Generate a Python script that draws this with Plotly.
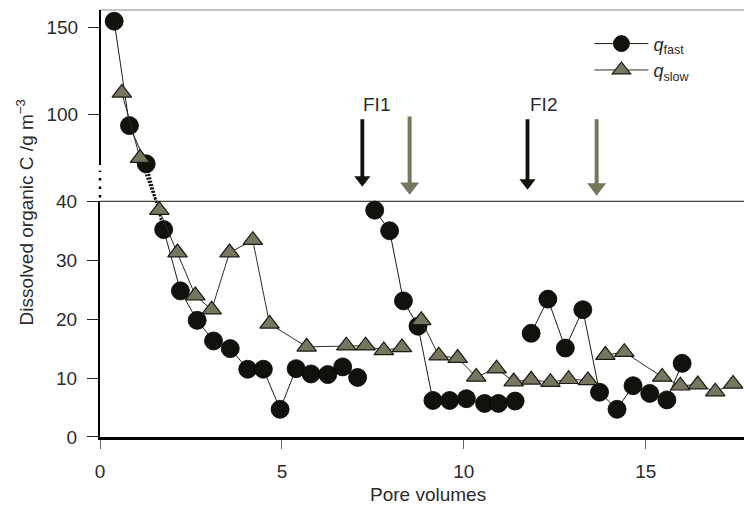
import plotly.graph_objects as go

# ---- data ----
fast_x = [0.39, 0.81, 1.27, 1.75, 2.21, 2.67, 3.12, 3.58, 4.06, 4.49, 4.95, 5.39, 5.80, 6.26, 6.67, 7.08,
          None,
          7.55, 7.96, 8.34, 8.74, 9.15, 9.61, 10.07, 10.57, 10.95, 11.41,
          None,
          11.85, 12.31, 12.79, 13.27, 13.73, 14.21, 14.65, 15.11, 15.58, 16.00]
fast_c = [153.4, 93.8, 72.0, 35.2, 24.8, 19.8, 16.3, 15.0, 11.5, 11.5, 4.7, 11.6, 10.7, 10.6, 11.9, 10.1,
          None,
          38.5, 35.0, 23.1, 18.8, 6.2, 6.2, 6.5, 5.7, 5.7, 6.1,
          None,
          17.6, 23.4, 15.1, 21.6, 7.6, 4.7, 8.7, 7.4, 6.3, 12.5]

slow_x = [0.60, 1.10, 1.63, 2.13, 2.62, 3.07, 3.56, 4.20, 4.66, 5.68, 6.77, 7.30, 7.80, 8.30,
          None,
          8.83, 9.31, 9.83, 10.34, 10.90, 11.37, 11.85, 12.38, 12.88, 13.41,
          None,
          13.89, 14.41, 15.45, 15.95, 16.43, 16.91, 17.40]
slow_c = [112.5, 75.3, 38.5, 31.3, 24.0, 21.6, 31.3, 33.4, 19.2, 15.3, 15.5, 15.5, 14.7, 15.2,
          None,
          19.8, 13.8, 13.4, 10.2, 11.6, 9.4, 9.7, 9.3, 9.8, 9.6,
          None,
          13.9, 14.4, 10.2, 8.7, 8.9, 7.7, 9.0]

# flow interruptions (arrows: shaft top and arrow-head centre, in upper-panel units)
fi_labels = ["FI1", "FI2"]
fi_label_x = [7.61, 12.19]
fi_label_c = [106.0, 106.0]
fi_fast_x = [7.21, 11.75]
fi_slow_x = [8.51, 13.65]
fi_fast_top = [97.4, 97.4]
fi_slow_top = [99.0, 97.4]
fi_fast_head = [62.9, 61.2]
fi_slow_head = [59.0, 58.5]

x_ticks = [0, 5, 10, 15]
low_ticks = [0, 10, 20, 30, 40]
up_ticks = [100, 150]

X_RANGE = [0, 17.7]
LOW_RANGE = [0, 40]
UP_RANGE = [50.6, 159.8]
SPLIT = 0.552

BLACK = "#12110b"
GREY = "#77765f"
TXT = "#2b2b2b"
FONT = "Liberation Sans, Arial, sans-serif"


def part(vals, lo, hi):
    return [v if (v is not None and lo <= v <= hi) else None for v in vals]


def paper_low(v):
    return (v - LOW_RANGE[0]) / (LOW_RANGE[1] - LOW_RANGE[0]) * SPLIT


def paper_up(v):
    return SPLIT + (v - UP_RANGE[0]) / (UP_RANGE[1] - UP_RANGE[0]) * (1 - SPLIT)


fig = go.Figure()

series = [
    ("<i>q</i><sub>fast</sub>", fast_x, fast_c,
     dict(symbol="circle", size=18, color=BLACK, line=dict(color="#000000", width=0.8)), "#1e1e18"),
    ("<i>q</i><sub>slow</sub>", slow_x, slow_c,
     dict(symbol="triangle-up", size=17, color=GREY, line=dict(color="#1a1a14", width=1.2)), "#2e2e28"),
]

for name, xs, cs, mk, lc in series:
    fig.add_trace(go.Scatter(x=xs, y=part(cs, LOW_RANGE[0], LOW_RANGE[1]), mode="lines+markers",
                             name=name, marker=mk, line=dict(color=lc, width=1),
                             xaxis="x", yaxis="y", cliponaxis=False, connectgaps=False,
                             legendgroup=name, showlegend=True))
for name, xs, cs, mk, lc in series:
    fig.add_trace(go.Scatter(x=xs, y=part(cs, UP_RANGE[0], UP_RANGE[1] + 10), mode="lines+markers",
                             name=name, marker=mk, line=dict(color=lc, width=1),
                             xaxis="x2", yaxis="y2", cliponaxis=False, connectgaps=False,
                             legendgroup=name, showlegend=False))

# arrow heads (flow interruptions)
fig.add_trace(go.Scatter(x=fi_fast_x, y=fi_fast_head, mode="markers", xaxis="x2", yaxis="y2",
                         marker=dict(symbol="triangle-down", size=14, color="#111109", line=dict(width=0)),
                         showlegend=False, hoverinfo="skip", cliponaxis=False))
fig.add_trace(go.Scatter(x=fi_slow_x, y=fi_slow_head, mode="markers", xaxis="x2", yaxis="y2",
                         marker=dict(symbol="triangle-down", size=16.5, color=GREY, line=dict(width=0)),
                         showlegend=False, hoverinfo="skip", cliponaxis=False))

shapes = []
# arrow shafts
for fx, top, head in zip(fi_fast_x, fi_fast_top, fi_fast_head):
    shapes.append(dict(type="line", xref="x2", yref="y2", x0=fx, x1=fx, y0=top, y1=head,
                       line=dict(color="#111109", width=3.8)))
for sx, top, head in zip(fi_slow_x, fi_slow_top, fi_slow_head):
    shapes.append(dict(type="line", xref="x2", yref="y2", x0=sx, x1=sx, y0=top, y1=head,
                       line=dict(color=GREY, width=4)))

# dotted connectors across the axis break
for name, xs, cs, mk, lc in series:
    for i in range(len(cs) - 1):
        a, b = cs[i], cs[i + 1]
        if a is None or b is None:
            continue
        if a >= UP_RANGE[0] and b <= LOW_RANGE[1]:
            shapes.append(dict(type="line", xref="x", yref="paper", layer="below",
                               x0=xs[i], y0=paper_up(a), x1=xs[i + 1], y1=paper_low(b),
                               line=dict(color="#111111", width=2.6, dash="2px,1.5px")))

# divider line at the break
shapes.append(dict(type="line", xref="paper", yref="paper", x0=0, x1=1, y0=SPLIT, y1=SPLIT,
                   line=dict(color="#111111", width=1)))
# top frame line
shapes.append(dict(type="line", xref="paper", yref="paper", x0=0, x1=1, y0=1, y1=1,
                   line=dict(color="#8a8a8a", width=1)))
# upper left axis: solid then dotted near the break
shapes.append(dict(type="line", xref="paper", yref="y2 domain", x0=0, x1=0, y0=0.19, y1=1.0,
                   line=dict(color="#000000", width=2)))
shapes.append(dict(type="line", xref="paper", yref="y2 domain", x0=0, x1=0, y0=0.02, y1=0.16,
                   line=dict(color="#000000", width=2.5, dash="2.5px,6px")))

annotations = []
for lab, lx, lcv in zip(fi_labels, fi_label_x, fi_label_c):
    annotations.append(dict(x=lx, y=lcv, xref="x2", yref="y2", text=lab, showarrow=False,
                            font=dict(family=FONT, size=19, color=TXT), xanchor="center", yanchor="middle"))

# axis titles
annotations.append(dict(xref="paper", yref="paper", x=(427.5 - 100) / 644, y=(436.7 - 495) / 430,
                        text="Pore volumes", showarrow=False, xanchor="center", yanchor="middle",
                        font=dict(family=FONT, size=19, color=TXT)))
annotations.append(dict(xref="paper", yref="paper", x=(25 - 100) / 644, y=(436.7 - 210.5) / 430,
                        text="Dissolved organic C /g m<sup>\u22123</sup>", showarrow=False, textangle=-90,
                        xanchor="center", yanchor="middle",
                        font=dict(family=FONT, size=19, color=TXT)))

tickfont = dict(family=FONT, size=19, color=TXT)

fig.update_layout(
    width=744, height=506,
    margin=dict(l=100, r=0, t=7, b=69),
    paper_bgcolor="white", plot_bgcolor="white",
    showlegend=True,
    legend=dict(x=0.760, y=0.964, xanchor="left", yanchor="top", bgcolor="rgba(0,0,0,0)",
                font=dict(family=FONT, size=18, color=TXT), itemwidth=54, tracegroupgap=0),
    xaxis=dict(domain=[0, 1], range=X_RANGE, anchor="y", tickvals=x_ticks, ticks="outside", ticklen=9,
               tickwidth=1, tickcolor="#666666", showline=True, linewidth=3, linecolor="#000000",
               showgrid=False, zeroline=False, tickfont=tickfont, ticklabelstandoff=6),
    yaxis=dict(domain=[0, SPLIT], range=LOW_RANGE, anchor="x", tickvals=low_ticks, ticks="outside",
               ticklen=11, tickwidth=1, tickcolor="#222222", showline=True, linewidth=2,
               linecolor="#000000", showgrid=False, zeroline=False, tickfont=tickfont,
               ticklabelstandoff=6),
    xaxis2=dict(domain=[0, 1], range=X_RANGE, anchor="y2", matches="x", showticklabels=False,
                ticks="", showline=False, showgrid=False, zeroline=False),
    yaxis2=dict(domain=[SPLIT, 1], range=UP_RANGE, anchor="x2", tickvals=up_ticks, ticks="outside",
                ticklen=11, tickwidth=1, tickcolor="#222222", showline=False, showgrid=False,
                zeroline=False, tickfont=tickfont, ticklabelstandoff=6),
    shapes=shapes,
    annotations=annotations,
)

fig.write_html("out.html")
